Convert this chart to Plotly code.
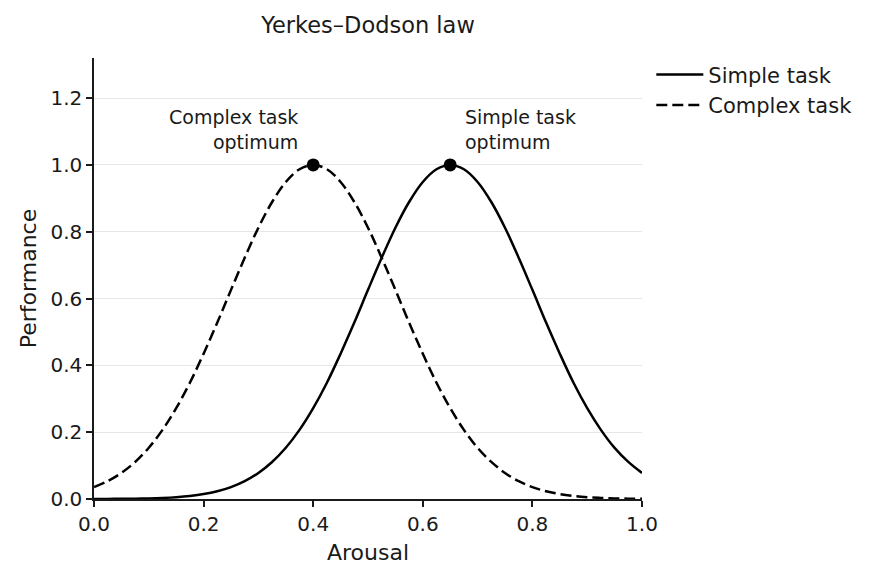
import plotly.graph_objects as go

arousal = [0.0, 0.025, 0.05, 0.075, 0.1, 0.125, 0.15, 0.175, 0.2, 0.225, 0.25, 0.275,
           0.3, 0.325, 0.35, 0.375, 0.4, 0.425, 0.45, 0.475, 0.5, 0.525, 0.55, 0.575,
           0.6, 0.625, 0.65, 0.675, 0.7, 0.725, 0.75, 0.775, 0.8, 0.825, 0.85, 0.875,
           0.9, 0.925, 0.95, 0.975, 1.0]

simple_task = [0.0002, 0.0003, 0.0006, 0.001, 0.0018, 0.0032, 0.0055, 0.0091, 0.0147,
               0.0232, 0.0357, 0.0534, 0.0779, 0.1107, 0.1534, 0.2069, 0.272, 0.348,
               0.435, 0.528, 0.626, 0.722, 0.812, 0.889, 0.949, 0.987, 1.0, 0.987,
               0.949, 0.889, 0.812, 0.722, 0.626, 0.528, 0.435, 0.348, 0.272, 0.207,
               0.153, 0.111, 0.078]

complex_task = [0.0357, 0.0534, 0.0779, 0.1107, 0.1534, 0.2069, 0.272, 0.348, 0.435,
                0.528, 0.626, 0.722, 0.812, 0.889, 0.949, 0.987, 1.0, 0.987, 0.949,
                0.889, 0.812, 0.722, 0.626, 0.528, 0.435, 0.348, 0.272, 0.207, 0.153,
                0.111, 0.078, 0.0534, 0.0357, 0.0232, 0.0147, 0.0091, 0.0055, 0.0032,
                0.0018, 0.001, 0.0006]

optimum_x = [0.4, 0.65]
optimum_y = [1.0, 1.0]
optimum_labels = ["Complex task<br>optimum", "Simple task<br>optimum"]

FONT = "DejaVu Sans"
INK = "#1a1a1a"
W, H = 871, 572  # page body has an 8px margin

fig = go.Figure()
fig.add_trace(go.Scatter(x=arousal, y=simple_task, mode="lines", name="Simple task",
                         line=dict(color="black", width=2.5, shape="spline")))
fig.add_trace(go.Scatter(x=arousal, y=complex_task, mode="lines", name="Complex task",
                         line=dict(color="black", width=2.5, dash="11px,5px", shape="spline")))
fig.add_trace(go.Scatter(x=optimum_x, y=optimum_y, mode="markers", showlegend=False,
                         marker=dict(color="black", size=13)))

fig.add_annotation(x=optimum_x[0], y=optimum_y[0], text=optimum_labels[0], showarrow=False,
                   xanchor="right", yanchor="bottom", align="right", xshift=-13, yshift=10,
                   font=dict(family=FONT, size=19, color=INK))
fig.add_annotation(x=optimum_x[1], y=optimum_y[1], text=optimum_labels[1], showarrow=False,
                   xanchor="left", yanchor="bottom", align="left", xshift=13, yshift=10,
                   font=dict(family=FONT, size=19, color=INK))

fig.update_layout(
    width=W, height=H,
    margin=dict(l=86, r=W - 634, t=50, b=H - 491),
    paper_bgcolor="white", plot_bgcolor="white",
    font=dict(family=FONT, color=INK, size=20),
    title=dict(text="Yerkes–Dodson law", x=360 / W, xanchor="center",
               y=1 - 17 / H, yanchor="middle", font=dict(size=22.5, family=FONT, color=INK)),
    legend=dict(x=1.017, y=1.008, xanchor="left", yanchor="top", bgcolor="rgba(0,0,0,0)",
                font=dict(size=21, family=FONT, color=INK), tracegroupgap=0,
                itemwidth=47),
    showlegend=True,
)
fig.update_xaxes(range=[0, 1], tickvals=[0, 0.2, 0.4, 0.6, 0.8, 1.0],
                 ticktext=["0.0", "0.2", "0.4", "0.6", "0.8", "1.0"],
                 showgrid=False, zeroline=False, showline=True, linecolor=INK, linewidth=1.5,
                 ticks="outside", ticklen=6, tickwidth=1.5, tickcolor=INK,
                 title=dict(text="Arousal", font=dict(size=22, family=FONT, color=INK), standoff=10),
                 tickfont=dict(size=20, family=FONT, color=INK))
fig.update_yaxes(range=[0, 1.32], tickvals=[0, 0.2, 0.4, 0.6, 0.8, 1.0, 1.2],
                 ticktext=["0.0", "0.2", "0.4", "0.6", "0.8", "1.0", "1.2"],
                 showgrid=True, gridcolor="#e6e6e6", gridwidth=1, zeroline=False,
                 showline=True, linecolor=INK, linewidth=1.5,
                 ticks="outside", ticklen=6, tickwidth=1.5, tickcolor=INK,
                 title=dict(text="Performance", font=dict(size=22, family=FONT, color=INK), standoff=8),
                 tickfont=dict(size=20, family=FONT, color=INK))

fig.write_html("out.html")
